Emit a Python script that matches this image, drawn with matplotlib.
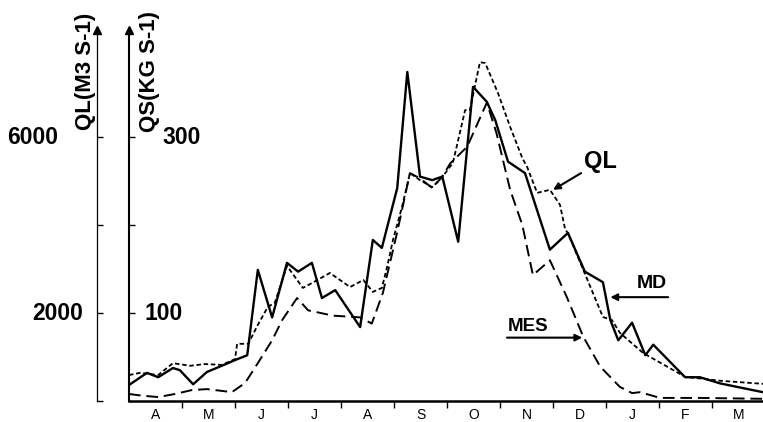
import matplotlib.pyplot as plt
import numpy as np
from matplotlib.transforms import ScaledTranslation

plt.rcParams['font.family'] = ['Liberation Sans', 'DejaVu Sans']

# month axis runs A(pril) .. M(arch), x in months since 1 April
months = ['A', 'M', 'J', 'J', 'A', 'S', 'O', 'N', 'D', 'J', 'F', 'M']

# QL : liquid discharge (m3/s), short dashed line
ql_month = [0, 0.21, 0.55, 0.83, 1.15, 1.43, 1.75, 2.0, 2.04, 2.25,
            2.43, 2.62, 2.75, 2.98, 3.28, 3.45, 3.79, 4.17, 4.42, 4.60,
            4.77, 4.87, 4.98, 5.15, 5.30, 5.49, 5.72, 5.91, 6.11, 6.34,
            6.43, 6.62, 6.72, 6.96, 7.19, 7.42, 7.51, 7.70, 7.94, 8.13,
            8.23, 8.28, 8.57, 8.94, 9.11, 9.26, 9.70, 10.49, 11.15, 11.96]
ql_val = [590, 640, 590, 860, 800, 840, 820, 950, 1300, 1300,
          1730, 2140, 2230, 3070, 2570, 2680, 2910, 2590, 2750, 2480,
          2570, 3050, 3660, 4410, 5180, 5020, 4860, 5090, 5410, 6610,
          6610, 7700, 7680, 7000, 6230, 5520, 5320, 4730, 4800, 4460,
          3890, 3820, 2980, 1910, 1840, 1550, 1090, 550, 460, 390]

# MD : measured suspended load (kg/s), solid line
md_month = [0.02, 0.34, 0.55, 0.83, 0.96, 1.21, 1.47, 1.75, 2.0, 2.23,
            2.43, 2.70, 2.98, 3.19, 3.45, 3.64, 3.89, 4.36, 4.60, 4.77,
            5.06, 5.25, 5.49, 5.72, 5.91, 6.21, 6.49, 6.75, 6.91, 7.15,
            7.47, 7.94, 8.28, 8.60, 8.94, 9.08, 9.23, 9.49, 9.74, 9.89,
            10.49, 10.77, 11.15, 11.96]
md_qs = [19, 32, 27, 37.5, 35, 19, 33, 40, 46.5, 52,
         149, 95, 157, 147, 157, 117, 126, 84, 183, 174,
         242, 374, 255, 251, 255, 181, 357, 340, 319, 272,
         259, 172, 191, 147, 135, 92, 69, 89, 52, 64,
         27, 27, 20, 10]

# MES : estimated suspended load (kg/s), long dashed line
mes_month = [0, 0.25, 0.55, 0.87, 1.19, 1.47, 1.75, 1.94, 2.19, 2.43,
             2.70, 2.89, 3.17, 3.38, 3.85, 4.36, 4.58, 4.79, 5.06, 5.30,
             5.49, 5.72, 5.91, 6.06, 6.38, 6.75, 6.93, 7.19, 7.42, 7.62,
             7.94, 8.26, 8.57, 8.89, 9.26, 9.49, 9.64, 10.02, 10.77, 11.96]
mes_qs = [8, 6, 4.5, 8, 12.5, 13.5, 11.5, 10, 20.5, 43,
          69, 92, 117, 103, 97, 95, 88, 123, 192, 259,
          253, 242, 255, 270, 289, 339, 305, 240, 200, 143,
          160, 118, 73, 39, 16, 9, 10, 3.5, 3.5, 2.5]

fig = plt.figure(figsize=(7.63, 4.22), dpi=100)
ax = fig.add_axes([129/763, 21/422, 634/763, 371/422])

ax.plot(md_month, md_qs, color='black', lw=1.7)
ax.plot(mes_month, mes_qs, color='black', lw=1.4, linestyle=(0, (6, 3)))

ax2 = ax.twinx()
ax2.plot(ql_month, ql_val, color='black', lw=1.3, linestyle=(0, (2.5, 1.5)))

qs_top = 421.6
ax.set_xlim(0, 11.96)
ax.set_ylim(0, qs_top)
ax2.set_ylim(0, qs_top*20)   # QS scale = QL/20

# spines
for s in ['top', 'right']:
    ax.spines[s].set_visible(False)
for s in ['top', 'right', 'bottom']:
    ax2.spines[s].set_visible(False)
ax.spines['left'].set_linewidth(1.5)
ax.spines['bottom'].set_linewidth(1.8)
ax2.spines['left'].set_visible(True)
ax2.spines['left'].set_position(('outward', 23))
ax2.spines['left'].set_linewidth(0.9)
ax2.yaxis.tick_left()

# y ticks, labels placed by hand (they dodge the axis titles)
ax.set_yticks([100, 200, 300])
ax.set_yticklabels([])
ax.tick_params(axis='y', direction='in', length=4, width=1)
ax2.set_yticks([0, 2000, 4000, 6000])
ax2.set_yticklabels([])
ax2.tick_params(axis='y', direction='in', length=4, width=1)

num = dict(textcoords='offset points', va='center', fontsize=16.5, fontweight='bold')
ax.annotate('100', xy=(0, 100), xycoords=('axes fraction', 'data'), xytext=(11, 0), ha='left', **num)
ax.annotate('300', xy=(0, 300), xycoords=('axes fraction', 'data'), xytext=(24, 0), ha='left', **num)
ax2.annotate('2000', xy=(0, 2000), xycoords=('axes fraction', 'data'), xytext=(-33, 0), ha='right', **num)
ax2.annotate('6000', xy=(0, 6000), xycoords=('axes fraction', 'data'), xytext=(-51, 0), ha='right', **num)

# x axis: ticks on month boundaries, letters in the middle
ax.set_xticks(np.arange(1, 12))
ax.set_xticklabels([])
ax.set_xticks(np.arange(12) + 0.5, minor=True)
ax.set_xticklabels(months, minor=True)
ax.tick_params(axis='x', which='major', direction='out', length=5, width=1)
ax.tick_params(axis='x', which='minor', length=0, pad=5, labelsize=10)

# arrow heads on top of both vertical axes
ax.plot([0], [1], marker='^', ms=6, color='black', transform=ax.transAxes, clip_on=False)
ax2.plot([0], [1], marker='^', ms=6, color='black', clip_on=False,
         transform=ax2.transAxes + ScaledTranslation(-23/72, 0, fig.dpi_scale_trans))

fig.text(85/763, 1 - 71/422, 'QL(M3 S-1)', rotation=90, ha='center', va='center',
         fontsize=16, fontweight='bold')
fig.text(150/763, 1 - 71/422, 'QS(KG S-1)', rotation=90, ha='center', va='center',
         fontsize=16, fontweight='bold')

# curve labels
arr = dict(arrowstyle='-|>', color='black', lw=1.5, shrinkA=0, shrinkB=0, mutation_scale=10)
ax.annotate('QL', xy=(8.0, 240), xytext=(8.89, 272), fontsize=17, fontweight='bold',
            ha='center', va='center', arrowprops=arr)
ax.text(9.87, 133, 'MD', fontsize=14, fontweight='bold', ha='center', va='center')
ax.annotate('', xy=(9.08, 118), xytext=(10.17, 118), arrowprops=arr)
ax.text(7.53, 85, 'MES', fontsize=13.5, fontweight='bold', ha='center', va='center')
ax.annotate('', xy=(8.55, 72), xytext=(7.13, 72), arrowprops=arr)

plt.savefig('out.png', dpi=100)
